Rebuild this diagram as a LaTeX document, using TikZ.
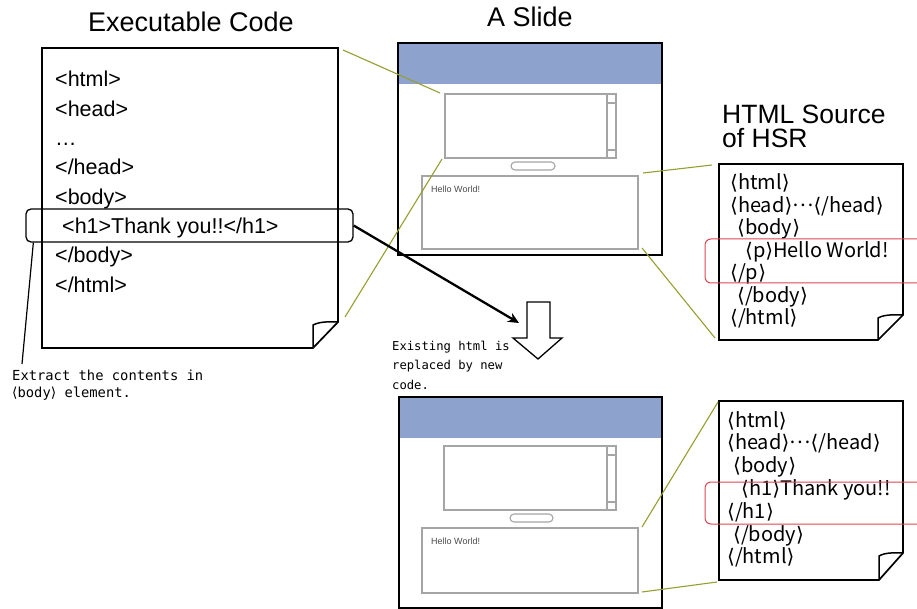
\documentclass[tikz,border=0pt]{standalone}
\usepackage{fontspec}
\setmainfont{Liberation Sans}
\newfontfamily\cjk{Noto Sans CJK JP}
\newfontfamily\monofnt{DejaVu Sans Mono}
\newfontfamily\dvsans{DejaVu Sans}
\usetikzlibrary{arrows.meta}
\definecolor{slideblue}{RGB}{141,163,206}
\definecolor{olive}{RGB}{150,158,48}
\definecolor{hlred}{RGB}{222,70,80}
\definecolor{boxgray}{RGB}{165,165,165}
\newcommand\lb{{\dvsans ⟨}}
\newcommand\rb{{\dvsans ⟩}}
\newcommand\mydots{\raisebox{.3em}{…}}
\tikzset{
  pagebox/.style={draw=black, line width=1.7pt, fill=white, line join=miter},
  title/.style={font=\fontsize{27}{30}\selectfont, inner sep=0pt},
  codeA/.style={font=\fontsize{21.5}{24}\selectfont, anchor=base west, inner sep=0pt},
  codeB/.style={font=\cjk\fontsize{20}{22}\selectfont, anchor=base west, inner sep=0pt},
  note/.style={font=\monofnt\fontsize{13.8}{17}\selectfont, anchor=base west, inner sep=0pt, align=left},
  grayline/.style={draw=boxgray, line width=1.1pt},
  conn/.style={draw=olive, line width=1.1pt},
  redbox/.style={draw=hlred, line width=1pt, rounded corners=6pt},
  hello/.style={font=\fontsize{9}{10}\selectfont, text=black!70, anchor=base west, inner sep=0pt}
}
\begin{document}
\begin{tikzpicture}[x=1pt,y=-1pt]
\useasboundingbox (0,0) rectangle (917,609);
\begin{scope}
\clip (0,0) rectangle (917,609);

% ---------- titles
\node[title, anchor=base] (t1) at (191,32) {Executable Code};
\node[title, anchor=base] (t2) at (530,27) {A Slide};
\node[title, anchor=base west, font=\fontsize{26.5}{30}\selectfont] (t3) at (722,124) {HTML Source};
\node[title, anchor=base west, font=\fontsize{26.5}{30}\selectfont] (t4) at (722,148) {of HSR};

% ---------- executable code page
\draw[pagebox] (42,48) -- (338,48) -- (338,322) -- (313,348) -- (42,348) -- cycle;
\draw[black, line width=1.5pt] (313,348) -- (313,325) .. controls (321,321) and (330,322) .. (338,322);
\node[codeA] (c1) at (55,87) {<html>};
\node[codeA] (c2) at (55,116.3) {<head>};
\node[codeA] (c3) at (55,145.6) {…};
\node[codeA] (c4) at (55,174.9) {</head>};
\node[codeA] (c5) at (55,204.2) {<body>};
\node[codeA] (c6) at (62,233.5) {<h1>Thank you!!</h1>};
\node[codeA] (c7) at (55,262.8) {</body>};
\node[codeA] (c8) at (55,292.1) {</html>};
\node[draw=black, line width=1.3pt, rounded corners=5pt, minimum width=327pt, minimum height=33pt, inner sep=0pt] (hl) at (189.5,225.5) {};

% note
\coordinate (noteend) at (22,364);
\draw[black, line width=1.2pt] ([xshift=8pt]hl.south west) -- (noteend);
\node[note] (n1) at (12,397) {Extract the contents in\\\lb body\rb~element.};

% ---------- slide 1
\begin{scope}[shift={(398,43)}]
  \fill[slideblue] (0,0) rectangle (264,41);
  \draw[grayline] (47,51) rectangle (218,115);
  \draw[grayline] (209,51) rectangle (218,115);
  \draw[grayline] (209,60) -- (218,60) (209,107) -- (218,107);
  \draw[grayline, rounded corners=4pt] (113,119) rectangle (157,127);
  \draw[grayline] (24,133) rectangle (240,206);
  \node[hello] (hw1) at (33,150) {Hello World!};
  \draw[black, line width=1.8pt] (0,0) rectangle (264,212);
  \coordinate (s1a) at (42,50);
  \coordinate (s1b) at (44,116);
  \coordinate (s1c) at (245,130);
  \coordinate (s1d) at (244,205);
\end{scope}

% ---------- slide 2
\begin{scope}[shift={(399,397)}]
  \fill[slideblue] (0,0) rectangle (263,41);
  \draw[grayline] (45,49) rectangle (217,113);
  \draw[grayline] (208,49) rectangle (217,113);
  \draw[grayline] (208,58) -- (217,58) (208,105) -- (217,105);
  \draw[grayline, rounded corners=4pt] (111,117) rectangle (154,125);
  \draw[grayline] (23,131) rectangle (239,196);
  \node[hello] (hw2) at (32,147) {Hello World!};
  \draw[black, line width=1.8pt] (0,0) rectangle (263,211);
  \coordinate (s2c) at (243,130);
  \coordinate (s2d) at (243,195);
\end{scope}

% ---------- HSR page 1
\draw[pagebox] (719,164) -- (903,164) -- (903,315) -- (878,340) -- (719,340) -- cycle;
\draw[black, line width=1.5pt] (878,340) -- (878,318) .. controls (885,314) and (895,315) .. (903,315);
\node[codeB] (a1) at (730,190) {\lb html\rb};
\node[codeB] (a2) at (730,212.4) {\lb head\rb\mydots\lb /head\rb};
\node[codeB] (a3) at (737,234.8) {\lb body\rb};
\node[codeB] (a4) at (745,257.2) {\lb p\rb Hello World!};
\node[codeB] (a5) at (730,279.6) {\lb /p\rb};
\node[codeB] (a6) at (737,302) {\lb /body\rb};
\node[codeB] (a7) at (730,324.4) {\lb /html\rb};
\draw[redbox] (705,239) rectangle (940,283);

% ---------- HSR page 2
\draw[pagebox] (719,401) -- (903,401) -- (903,553) -- (879,580) -- (719,580) -- cycle;
\draw[black, line width=1.5pt] (879,580) -- (879,556) .. controls (886,552) and (895,553) .. (903,553);
\node[codeB] (b1) at (727,427) {\lb html\rb};
\node[codeB] (b2) at (727,449.8) {\lb head\rb\mydots\lb /head\rb};
\node[codeB] (b3) at (733,472.6) {\lb body\rb};
\node[codeB] (b4) at (741,495.4) {\lb h1\rb Thank you!!};
\node[codeB] (b5) at (727,518.2) {\lb /h1\rb};
\node[codeB] (b6) at (733,541) {\lb /body\rb};
\node[codeB] (b7) at (727,563.8) {\lb /html\rb};
\draw[redbox] (705,482) rectangle (940,524);

% ---------- olive connectors
\coordinate (p1) at (343,50);
\coordinate (p2) at (345,317);
\coordinate (q1) at (712,165);
\coordinate (q2) at (715,338);
\coordinate (r1) at (718,402);
\coordinate (r2) at (717,582);
\draw[conn] (p1) -- (s1a);
\draw[conn] (p2) -- (s1b);
\draw[conn] (s1c) -- (q1);
\draw[conn] (s1d) -- (q2);
\draw[conn] (s2c) -- (r1);
\draw[conn] (s2d) -- (r2);

% ---------- block arrow and text
\draw[black, line width=1.3pt, fill=white, line join=miter] (527,302) -- (550,302) -- (550,338) -- (562,338) -- (538,359) -- (513,338) -- (527,338) -- cycle;
\coordinate (arrtip) at (519,323);
\draw[black, line width=2.3pt, -{Stealth[length=11pt,width=10pt]}] (hl.east) -- (arrtip);
\node[note, font=\monofnt\fontsize{12.2}{19.5}\selectfont] (n2) at (392,389) {Existing html is\\replaced by new\\code.};
\end{scope}
\end{tikzpicture}
\end{document}
